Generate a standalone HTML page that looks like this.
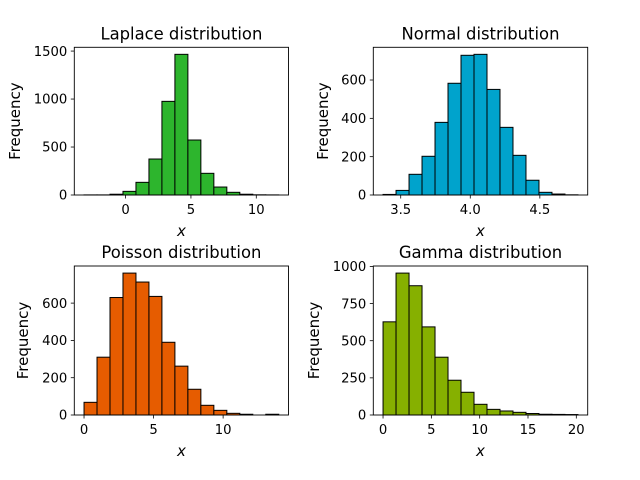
<!DOCTYPE html>
<html><head><meta charset="utf-8"><style>
html,body{margin:0;padding:0;background:#fff;}
svg{display:block;font-family:"DejaVu Sans","Liberation Sans",sans-serif;}
</style></head><body>
<svg id="fig" width="640" height="480" xmlns="http://www.w3.org/2000/svg"></svg>
<script>
// Laplace
const laplaceCounts = [1, 1, 8, 38, 132, 375, 976, 1466, 573, 226, 83, 28, 8, 2, 1];
const laplaceRange = [-3.18, 11.72];
const laplaceTicksY = [0, 500, 1000, 1500];
const laplaceTicksX = [0, 5, 10];
// Normal
const normalCounts = [3, 24, 108, 202, 379, 583, 729, 734, 551, 353, 207, 77, 14, 5, 1];
const normalRange = [3.373, 4.774];
const normalTicksY = [0, 200, 400, 600];
const normalTicksX = [3.5, 4.0, 4.5];
// Poisson
const poissonCounts = [68, 310, 630, 761, 713, 636, 390, 262, 138, 52, 25, 9, 4, 0, 4];
const poissonRange = [0, 14];
const poissonTicksY = [0, 200, 400, 600];
const poissonTicksX = [0, 5, 10];
// Gamma
const gammaCounts = [627, 955, 870, 593, 389, 234, 153, 72, 38, 27, 18, 10, 5, 4, 3];
const gammaRange = [0, 20.17];
const gammaTicksY = [0, 250, 500, 750, 1000];
const gammaTicksX = [0, 5, 10, 15, 20];

const NS = "http://www.w3.org/2000/svg";
const svg = document.getElementById('fig');
function mk(tag, attrs, parent) {
  const e = document.createElementNS(NS, tag);
  for (const k in attrs) e.setAttribute(k, attrs[k]);
  (parent || svg).appendChild(e);
  return e;
}
function panel(opts) {
  const {name, title, counts, range, ticksY, ticksX, color, L, R, T, B, ylabX, xFmt} = opts;
  const g = mk('g', {});
  
  
  const n = counts.length;
  const span = range[1] - range[0];
  const x0 = range[0] - span * 0.05, x1 = range[1] + span * 0.05;
  const ymax = Math.max(...counts) * 1.05;
  const sx = v => L + (v - x0) / (x1 - x0) * (R - L);
  const sy = v => B - v / ymax * (B - T);
  const w = span / n;
  counts.forEach((c, i) => {
    const a = sx(range[0] + i * w), b = sx(range[0] + (i + 1) * w);
    const r = mk('rect', {x: a, y: sy(c), width: b - a, height: B - sy(c), fill: color, stroke: '#000', 'stroke-width': 1}, g);
    
    
  });
  const frame = mk('rect', {x: L, y: T, width: R - L, height: B - T, fill: 'none', stroke: '#000', 'stroke-width': 0.9}, g);
  
  
  ticksY.forEach(v => {
    const y = sy(v);
    mk('line', {x1: L - 3.5, x2: L, y1: y, y2: y, stroke: '#000', 'stroke-width': 0.8}, g);
    const t = mk('text', {x: L - 7, y: y + 4.7, 'font-size': 13.2, 'text-anchor': 'end', fill: '#000'}, g);
    t.textContent = v;
    
    
  });
  ticksX.forEach(v => {
    const x = sx(v);
    mk('line', {x1: x, x2: x, y1: B, y2: B + 3.5, stroke: '#000', 'stroke-width': 0.8}, g);
    const t = mk('text', {x: x, y: B + 19, 'font-size': 13.2, 'text-anchor': 'middle', fill: '#000'}, g);
    t.textContent = xFmt ? v.toFixed(1) : v;
    
    
  });
  const tt = mk('text', {x: (L + R) / 2, y: T - 8, 'font-size': 16.4, 'text-anchor': 'middle', fill: '#000'}, g);
  tt.textContent = title;
  
  
  const xl = mk('text', {x: (L + R) / 2, y: B + 41, 'font-size': 15, 'font-style': 'italic', 'text-anchor': 'middle', fill: '#000'}, g);
  xl.textContent = 'x';
  
  
  const cy = (T + B) / 2;
  const yl = mk('text', {x: ylabX, y: cy, 'font-size': 15, 'text-anchor': 'middle', fill: '#000', transform: `rotate(-90 ${ylabX} ${cy})`}, g);
  yl.textContent = 'Frequency';
  
  
}
panel({name: 'laplace', title: 'Laplace distribution', counts: laplaceCounts, range: laplaceRange, ticksY: laplaceTicksY, ticksX: laplaceTicksX, color: '#2db52d', L: 74.3, R: 288.5, T: 47.3, B: 195, ylabX: 20});
panel({name: 'normal', title: 'Normal distribution', counts: normalCounts, range: normalRange, ticksY: normalTicksY, ticksX: normalTicksX, color: '#00a3cc', L: 373.3, R: 587.7, T: 47.3, B: 195, ylabX: 328, xFmt: true});
panel({name: 'poisson', title: 'Poisson distribution', counts: poissonCounts, range: poissonRange, ticksY: poissonTicksY, ticksX: poissonTicksX, color: '#e65c00', L: 74.3, R: 288.5, T: 266, B: 415, ylabX: 28});
panel({name: 'gamma', title: 'Gamma distribution', counts: gammaCounts, range: gammaRange, ticksY: gammaTicksY, ticksX: gammaTicksX, color: '#86b000', L: 373.3, R: 587.7, T: 266, B: 415, ylabX: 319});
</script>
</body></html>
